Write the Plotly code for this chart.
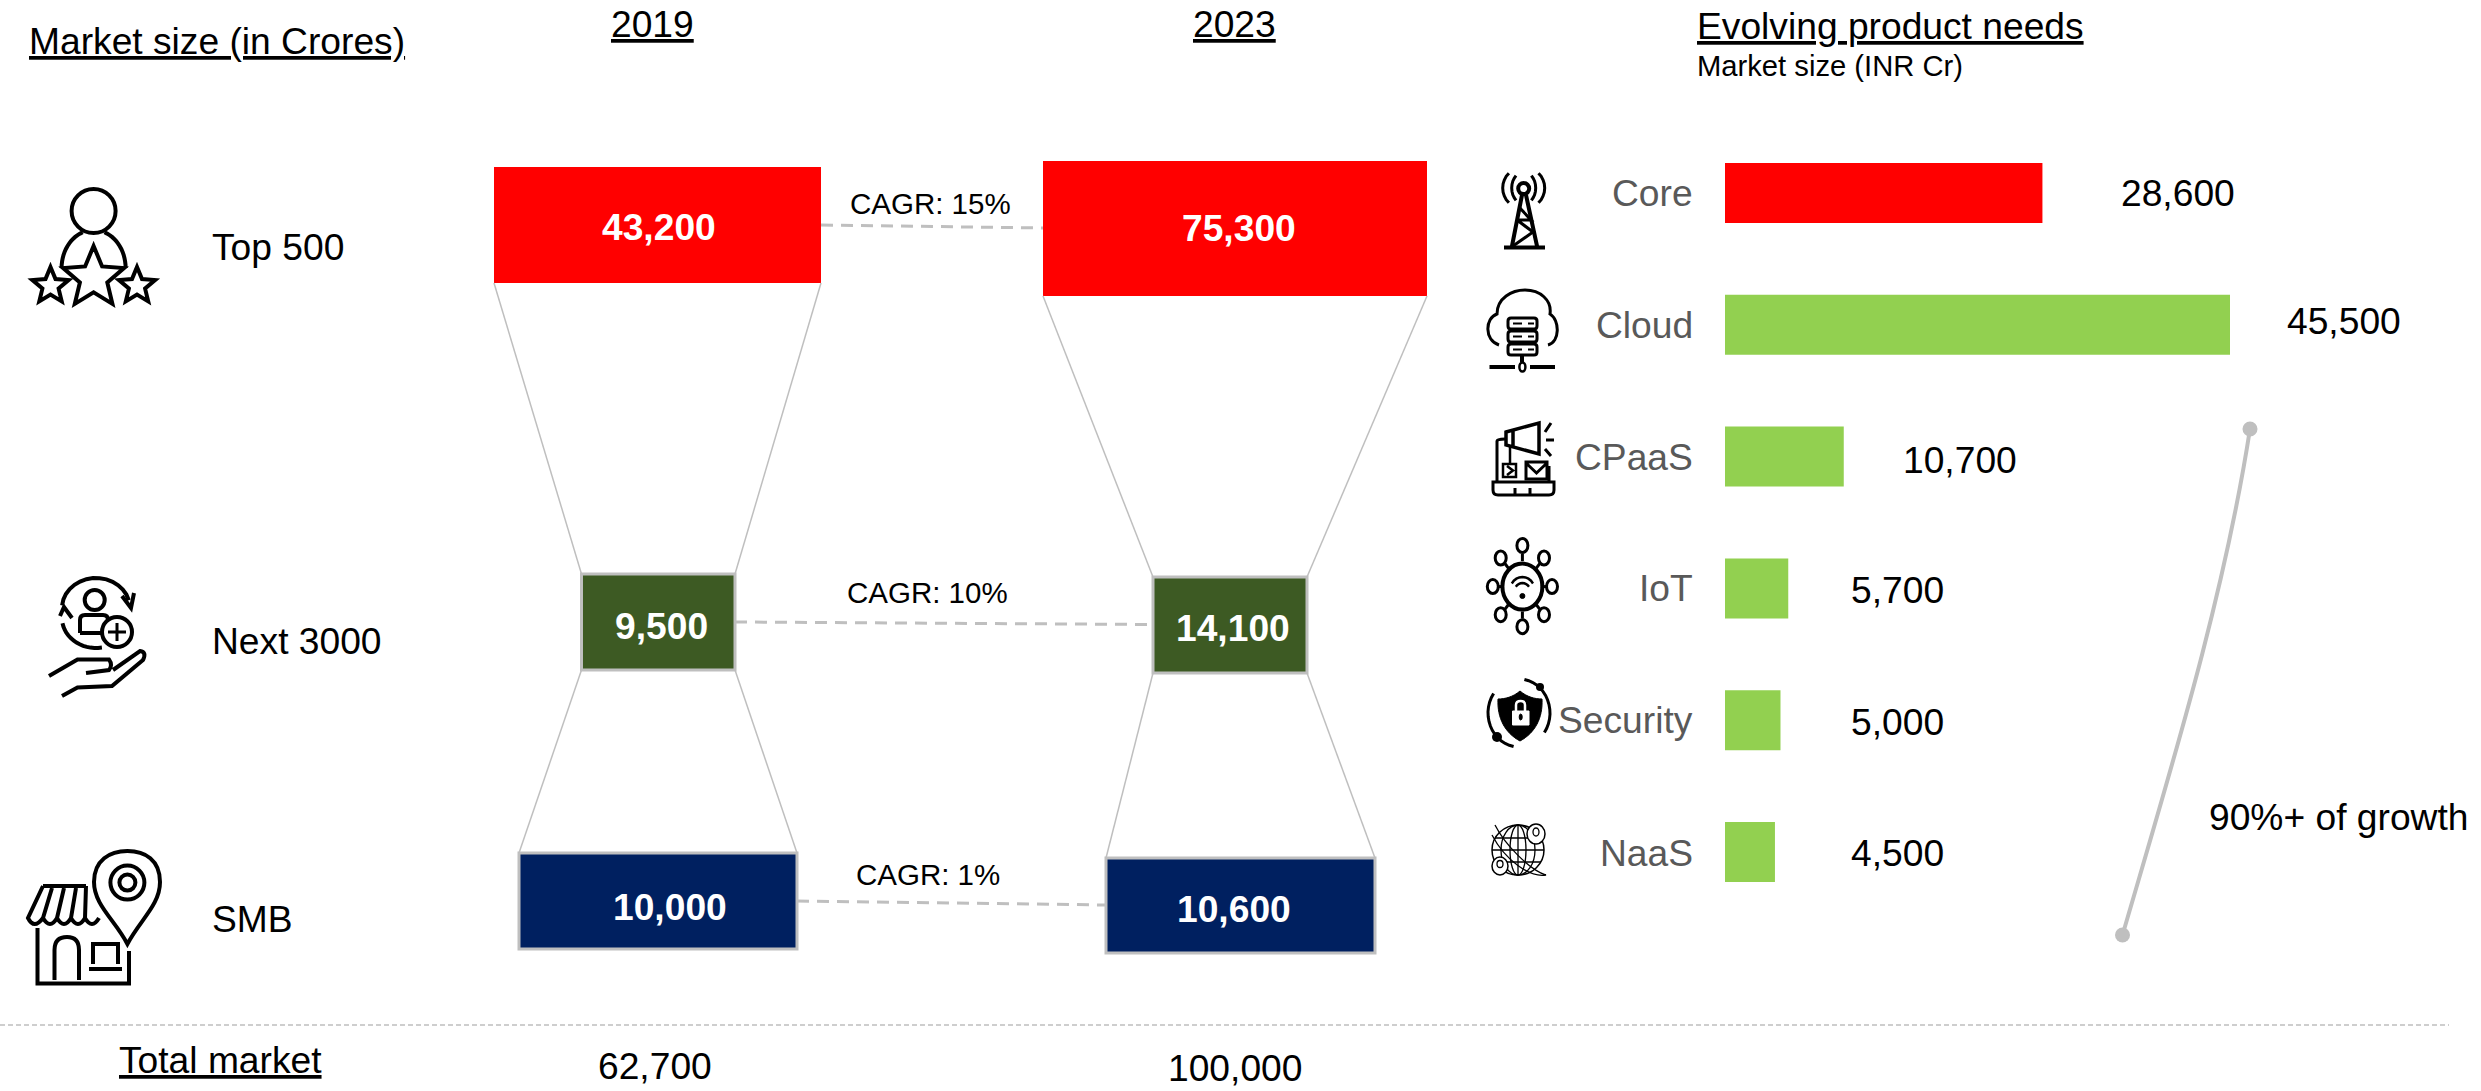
import math
import plotly.graph_objects as go

# ---------- data ----------
segments = ["Top 500", "Next 3000", "SMB"]
values_2019 = [43200, 9500, 10000]
values_2023 = [75300, 14100, 10600]
cagr_pct = [15, 10, 1]
totals = [62700, 100000]
years = ["2019", "2023"]
products = ["Core", "Cloud", "CPaaS", "IoT", "Security", "NaaS"]
product_values = [28600, 45500, 10700, 5700, 5000, 4500]

# ---------- layout (schematic, in canvas pixels) ----------
W, H = 2481, 1091
FONT = "Liberation Sans"
GREY = "#BFBFBF"
SEG_COLORS = ["#FF0000", "#3D5A23", "#002060"]
PROD_COLORS = ["#FF0000", "#92D050", "#92D050", "#92D050", "#92D050", "#92D050"]
BLOCKS_2019 = [(494, 821, 167, 283), (581.5, 735, 574, 670), (519, 797, 853, 949)]
BLOCKS_2023 = [(1043, 1427, 161, 296), (1153, 1307, 577, 673), (1106, 1375, 858, 953)]
VAL_CX_2019 = [659, 661, 670]
VAL_CX_2023 = [1239, 1233, 1234]
VAL_BASE_2019 = [238, 637, 918]
VAL_BASE_2023 = [239, 639, 920]
CAGR_CX = [930, 927, 928]
CAGR_BASE = [212, 601, 883]
CONNECT = [((821, 225), (1043, 228)), ((735, 622), (1153, 624.5)), ((797, 901), (1106, 905))]
SEG_BASE = [258, 652, 930]
PROD_LABEL_BASE = [204, 336, 468, 599, 731, 864]
PROD_VALUE_X = [2121, 2287, 1903, 1851, 1851, 1851]
PROD_VALUE_BASE = [204, 332, 471, 601, 733, 864]
BAR_X0, PX_PER_UNIT, AXIS_MAX = 1725, 505 / 45500, 50000
ROW_TOP, ROW_BOTTOM = 127.1, 917.9

fig = go.Figure()

# funnel blocks
for blocks, vals in ((BLOCKS_2019, values_2019), (BLOCKS_2023, values_2023)):
    for i, (x0, x1, y0, y1) in enumerate(blocks):
        fig.add_trace(go.Bar(
            x=[(x0 + x1) / 2], y=[y1 - y0], base=[y0], width=[x1 - x0],
            marker=dict(color=SEG_COLORS[i],
                        line=dict(color=GREY, width=0 if i == 0 else 3)),
            name=segments[i], customdata=[vals[i]],
            hovertemplate="%{customdata:,}<extra>" + segments[i] + "</extra>",
            xaxis="x", yaxis="y", showlegend=False))

# product bars
fig.add_trace(go.Bar(
    x=product_values, y=products, orientation="h",
    marker=dict(color=PROD_COLORS, line=dict(width=0)),
    xaxis="x2", yaxis="y2", showlegend=False, hoverinfo="x+y"))

shapes = []


def line(x0, y0, x1, y1, color=GREY, width=1.5, dash="solid"):
    shapes.append(dict(type="line", x0=x0, y0=y0, x1=x1, y1=y1, xref="x", yref="y",
                       line=dict(color=color, width=width, dash=dash), layer="above"))


def path(d, width=4, color="black", fill=None):
    shapes.append(dict(type="path", path=d, xref="x", yref="y", layer="above",
                       line=dict(color=color, width=width),
                       fillcolor=fill if fill else "rgba(0,0,0,0)"))


def ell(cx, cy, rx, ry=None, width=4, color="black", fill=None):
    ry = rx if ry is None else ry
    shapes.append(dict(type="circle", x0=cx - rx, x1=cx + rx, y0=cy - ry, y1=cy + ry,
                       xref="x", yref="y", layer="above",
                       line=dict(color=color, width=width),
                       fillcolor=fill if fill else "rgba(0,0,0,0)"))


def poly(pts, close=False):
    return "M " + " L ".join(f"{x:.1f},{y:.1f}" for x, y in pts) + (" Z" if close else "")


def star(cx, cy, R, width=4):
    pts = []
    for k in range(10):
        r = R if k % 2 == 0 else R * 0.45
        a = -math.pi / 2 + k * math.pi / 5
        pts.append((cx + r * math.cos(a), cy + r * math.sin(a)))
    path(poly(pts, True), width)


def arc(cx, cy, rx, ry, a0, a1, n=14):
    return [(cx + rx * math.cos(math.radians(a0 + (a1 - a0) * t / n)),
             cy + ry * math.sin(math.radians(a0 + (a1 - a0) * t / n))) for t in range(n + 1)]


# funnel side lines
for (a, b) in ((BLOCKS_2019[0], BLOCKS_2019[1]), (BLOCKS_2019[1], BLOCKS_2019[2]),
               (BLOCKS_2023[0], BLOCKS_2023[1]), (BLOCKS_2023[1], BLOCKS_2023[2])):
    line(a[0], a[3], b[0], b[2])
    line(a[1], a[3], b[1], b[2])

# CAGR connectors
for (p, q) in CONNECT:
    line(p[0], p[1], q[0], q[1], width=3, dash="12px,8px")

# bottom separator
line(0, 1025, 2449, 1025, width=1.5, dash="5px,3px")

# growth curve
path("M 2122.5,935 C 2172,765 2224,597 2250,429", width=4, color=GREY)
ell(2122.5, 935, 7.5, width=0, color=GREY, fill=GREY)
ell(2250, 429, 7.5, width=0, color=GREY, fill=GREY)

# --- icon: person with stars
ell(93.6, 211, 22, 22)
path(poly(arc(93.6, 268, 32, 38, 180, 250)))
path(poly(arc(93.6, 268, 32, 38, 290, 360)))
star(93.6, 278, 32)
star(50.5, 286, 19)
star(137, 286, 19)

# --- icon: hand with person
ell(94.7, 600, 10)
path("M 80,633 L 80,620 Q 80,615 85,615 L 103,615 Q 108,615 108,620 M 80,633 L 102,633")
ell(117, 632, 15)
path("M 117,623 L 117,641 M 108,632 L 126,632", 3)
path(poly(arc(96, 608, 34, 30, 185, 345)))
path("M 122,596 L 131,608 L 134,593")
path(poly(arc(96, 618, 34, 30, 170, 80)))
path("M 60,616 L 64,607 L 72,618")
path("M 49,676 L 77.5,659.5 L 109,659.5 Q 113,665 109,670 L 86,673 M 113,670 L 140,651 Q 147,652 143,660 L 112,686 L 77.5,687.5 L 62,696")

# --- icon: shop with pin
path("M 127.4,944 C 115,920 94,905 94,882 C 94,860 110,851 127.4,851 C 145,851 160,860 160,882 C 160,905 140,920 127.4,944 Z")
ell(127.4, 882.6, 17)
ell(127.4, 882.6, 8)
path("M 43,886 L 86,886 M 43,886 L 28,918 Q 34,930 43,918 Q 50,930 57,918 Q 64,930 71,918 Q 78,930 85,918 Q 92,930 99,918 M 52,888 L 43,918 M 64,888 L 57,918 M 76,888 L 71,918 M 86,886 L 85,918")
path("M 37.5,928 L 37.5,983.5 L 129,983.5 L 129,951")
path("M 54.5,980 L 54.5,950 Q 54.5,937 67,937 Q 79,937 79,950 L 79,980")
path("M 93,964 L 93,944 L 118,944 L 118,964 M 89,969 L 122,969")

# --- icon: tower
ell(1523.7, 188.6, 5.5)
path(poly(arc(1523.7, 188, 12, 16, 130, 230, 8)), 3)
path(poly(arc(1523.7, 188, 12, 16, 50, -50, 8)), 3)
path(poly(arc(1523.7, 188, 21, 21, 135, 225, 8)), 3)
path(poly(arc(1523.7, 188, 21, 21, 45, -45, 8)), 3)
path("M 1522,195 L 1512,246 M 1526,195 L 1537,246 M 1504,247.5 L 1545,247.5", 4)
path("M 1517,220 L 1533,232 L 1513,246 M 1519,207 L 1531,220 L 1517,220", 3)

# --- icon: cloud with servers
path("M 1499,345 C 1484,340 1485,318 1497,314 C 1497,298 1512,290 1525,290 C 1540,290 1552,300 1550,314 C 1560,320 1560,342 1548,345", 3)
for y in (318, 331, 344):
    path(f"M 1511,{y} L 1534,{y} Q 1537,{y} 1537,{y+3} L 1537,{y+8} Q 1537,{y+11} 1534,{y+11} L 1511,{y+11} Q 1508,{y+11} 1508,{y+8} L 1508,{y+3} Q 1508,{y} 1511,{y} Z", 3)
    path(f"M 1513,{y+5.5} L 1522,{y+5.5} M 1528,{y+5.5} L 1534,{y+5.5}", 2)
path("M 1522,356 L 1522,362 M 1489.5,367 L 1515,367 M 1530,367 L 1555,367", 4)
ell(1522.4, 367, 3, 4.5, 2.5)

# --- icon: megaphone & laptop
path("M 1497,482 L 1497,441 Q 1497,439 1505,439 M 1549,482 L 1549,466", 3)
path("M 1493,482 L 1554,482 L 1554,490 Q 1554,495 1549,495 L 1498,495 Q 1493,495 1493,490 Z M 1515,495 L 1515,488 M 1530,495 L 1530,488", 3)
path("M 1506,432 L 1539,423 L 1539,454 L 1506,445 Z M 1513,431 L 1513,446", 3.5)
path("M 1545,432 L 1551,423 M 1546,440 L 1554,440 M 1545,449 L 1551,456", 3)
path("M 1503,464 L 1516,464 L 1516,477 L 1503,477 Z M 1507,466 L 1513,470.5 L 1507,475", 2.5)
path("M 1526,462 L 1547,462 L 1547,479 L 1526,479 Z M 1526,463 L 1536.5,473 L 1547,463", 3)
path("M 1510,445 L 1510,464", 2.5)

# --- icon: IoT hub
HUB = (1522.4, 586.6)
ell(HUB[0], HUB[1], 20, 23, 4)
for nx, ny in [(1522.4, 545.5), (1522.4, 626.7), (1492.8, 586.6), (1552, 586.6),
               (1500.7, 558), (1544, 558), (1500.7, 614.7), (1544, 614.7)]:
    ell(nx, ny, 5.5, 7, 3)
    line(HUB[0] + (nx - HUB[0]) * 0.62, HUB[1] + (ny - HUB[1]) * 0.62,
         HUB[0] + (nx - HUB[0]) * 0.8, HUB[1] + (ny - HUB[1]) * 0.8, color="black", width=3)
path(poly(arc(1522.4, 592, 13, 15, 215, 325, 8)), 2.5)
path(poly(arc(1522.4, 592, 8, 9, 215, 325, 8)), 2.5)
ell(1522.4, 596, 2.5, 2.5, 1, fill="black")

# --- icon: shield
path(poly(arc(1519, 713, 31, 34, 100, 215)), 3)
path(poly(arc(1519, 713, 31, 34, 280, 395)), 3)
ell(1540, 687, 4, width=0, fill="black")
ell(1497, 737, 5, width=0, fill="black")
path("M 1520,691 C 1527,697 1535,699 1542,699 C 1543,718 1535,733 1520,741 C 1505,733 1497,718 1498,699 C 1505,699 1513,697 1520,691 Z",
     1, fill="black")
path("M 1512.5,711 L 1529,711 L 1529,725 L 1512.5,725 Z", 1, color="white", fill="white")
path("M 1516,711 L 1516,705 Q 1516,701 1520.7,701 Q 1525,701 1525,705 L 1525,711", 2.5, color="white")
ell(1520.7, 717, 1.5, 3, 1, fill="black")

# --- icon: globe
ell(1518, 850, 26, 25, 1.5)
for rx in (8, 17):
    ell(1518, 850, rx, 25, 1.3)
path("M 1518,825 L 1518,875 M 1492,850 L 1544,850 M 1495,838 L 1541,838 M 1495,862 L 1541,862", 1.3)
path("M 1495,825 C 1505,845 1530,870 1546,875 C 1530,878 1505,860 1492,835", 1.3)
ell(1536, 834, 9, 10, 1.5, fill="white")
ell(1536, 832, 3, 4, 1.3)
ell(1500, 866, 8, 9, 1.5, fill="white")
ell(1500, 864, 3, 3.5, 1.3)

# ---------- text ----------
annotations = []


def text(s, x, base, size=37.2, anchor="left", color="black", bold=False):
    annotations.append(dict(
        text=f"<b>{s}</b>" if bold else s,
        x=x, y=base + 1 - 0.33 * size, xref="x", yref="y",
        xanchor=anchor, yanchor="middle", showarrow=False, borderpad=0, borderwidth=0,
        align=anchor, font=dict(family=FONT, size=size, color=color)))


def under(s, x, base, anchor="left"):
    text(f"<u>{s}</u>", x, base, anchor=anchor)


under("Market size (in Crores)", 29, 52)
under(years[0], 652, 35, "center")
under(years[1], 1234, 35, "center")
under("Evolving product needs", 1697, 37)
text("Market size (INR Cr)", 1697, 75, 29.2)
for i, s in enumerate(segments):
    text(s, 212, SEG_BASE[i])
    text(f"{values_2019[i]:,}", VAL_CX_2019[i], VAL_BASE_2019[i], 37.2, "center", "white", True)
    text(f"{values_2023[i]:,}", VAL_CX_2023[i], VAL_BASE_2023[i], 37.2, "center", "white", True)
    text(f"CAGR: {cagr_pct[i]}%", CAGR_CX[i], CAGR_BASE[i], 29.5, "center")
for i, p in enumerate(products):
    text(p, 1693, PROD_LABEL_BASE[i], 37.2, "right", "#595959")
    text(f"{product_values[i]:,}", PROD_VALUE_X[i], PROD_VALUE_BASE[i])
text("90%+ of growth", 2209, 828)
under("Total market", 119, 1071)
text(f"{totals[0]:,}", 655, 1077, 37.2, "center")
text(f"{totals[1]:,}", 1235, 1079, 37.2, "center")

fig.update_layout(
    width=W, height=H, margin=dict(l=0, r=0, t=0, b=0),
    paper_bgcolor="white", plot_bgcolor="rgba(0,0,0,0)",
    barmode="overlay", bargap=1 - 60 / 131.8, showlegend=False,
    shapes=shapes, annotations=annotations,
    xaxis=dict(domain=[0, 1], range=[0, W], visible=False, fixedrange=True),
    yaxis=dict(domain=[0, 1], range=[H, 0], visible=False, fixedrange=True),
    xaxis2=dict(domain=[BAR_X0 / W, (BAR_X0 + AXIS_MAX * PX_PER_UNIT) / W], range=[0, AXIS_MAX],
                visible=False, anchor="y2", fixedrange=True),
    yaxis2=dict(domain=[1 - ROW_BOTTOM / H, 1 - ROW_TOP / H], type="category",
                categoryorder="array", categoryarray=products,
                range=[5.5, -0.5], visible=False, anchor="x2", fixedrange=True),
)

fig.write_html("out.html", config=dict(displayModeBar=False),
               post_script="document.body.style.margin='0';document.body.style.overflow='hidden';")
